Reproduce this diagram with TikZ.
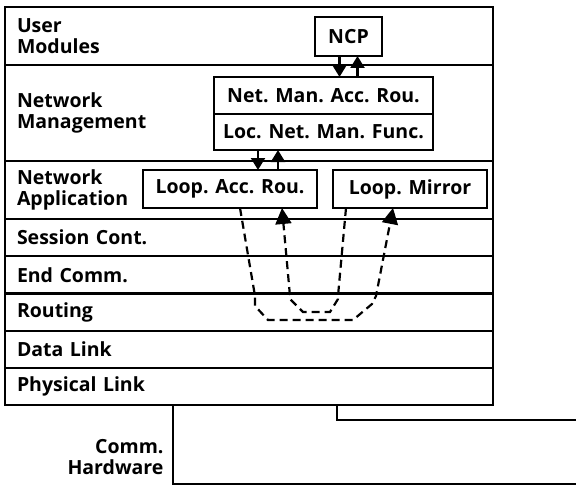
\documentclass[tikz,border=0pt]{standalone}
\usepackage{fontspec}
\setmainfont{Open Sans}
\usetikzlibrary{arrows.meta,positioning}

\begin{document}
\begin{tikzpicture}[
    x=1pt, y=-1pt,
    node distance=0pt,
    layer/.style={draw, line width=2.2pt, outer sep=0pt, text width=464pt, inner xsep=12pt, inner ysep=0pt, align=left, font=\fontsize{19.5}{21}\selectfont\bfseries},
    box/.style={draw, line width=2.2pt, outer sep=0pt, inner sep=0pt, minimum height=38pt, font=\fontsize{19.5}{21}\selectfont\bfseries},
    arr/.style={-{Triangle[length=12pt, width=14pt]}, line width=2.2pt},
    loopline/.style={-{Triangle[length=16pt, width=16pt]}, line width=2.2pt, dash pattern=on 8pt off 5pt},
    wire/.style={line width=2.2pt}
]
    \useasboundingbox (0,0) rectangle (576,487);

    % Layers
    \node[layer, minimum height=58pt, anchor=north west] (user) at (5,7) {User\\Modules};
    \node[layer, minimum height=96pt, below=of user] (netman) {Network\\Management};
    \node[layer, minimum height=58pt, below=of netman] (netapp) {Network\\Application};
    \node[layer, minimum height=37.2pt, below=of netapp] (session) {Session Cont.};
    \node[layer, minimum height=37.2pt, below=of session] (endcomm) {End Comm.};
    \node[layer, minimum height=37.2pt, below=of endcomm] (routing) {Routing};
    \node[layer, minimum height=37.2pt, below=of routing] (datalink) {Data Link};
    \node[layer, minimum height=37.2pt, below=of datalink] (phys) {Physical Link};

    % Modules
    \node[box, minimum width=67pt, minimum height=39pt] (ncp) at (348.5,36.5) {NCP};
    \node[box, minimum width=219pt, minimum height=37pt] (netacc) at (323.5,95.5) {Net. Man. Acc. Rou.};
    \node[box, minimum width=219pt, minimum height=36pt, below=of netacc] (locnet) {Loc. Net. Man. Func.};
    \node[box, minimum width=174pt] (loopacc) at (230,189) {Loop. Acc. Rou.};
    \node[box, minimum width=154pt, right=16pt of loopacc] (mirror) {Loop. Mirror};

    % Arrows
    \draw[arr] ([xshift=-9pt]ncp.south) -- ([xshift=-9pt]ncp.south |- netacc.north);
    \draw[arr] ([xshift=9pt]ncp.south |- netacc.north) -- ([xshift=9pt]ncp.south);
    \draw[arr] ([xshift=28pt]loopacc.north |- locnet.south) -- ([xshift=28pt]loopacc.north);
    \draw[arr] ([xshift=48pt]loopacc.north) -- ([xshift=48pt]loopacc.north |- locnet.south);

    % Loopback paths
    \draw[loopline] ([xshift=10pt]loopacc.south) -- ++(15,88) -- ++(0,10) -- ++(13,14) -- ++(85,0)
        -- ++(19,-16) -- ++(4,-8) -- ([xshift=-17pt]mirror.south);
    \draw[loopline] ([xshift=-64pt]mirror.south) -- ++(-8,88) -- ++(0,3) -- ++(-8,13) -- ++(-27,0)
        -- ++(-13,-13) -- ++(0,-3) -- ([xshift=52pt]loopacc.south);

    % Hardware
    \coordinate (hwend) at (576,484);
    \coordinate (linkend) at (576,420);
    \draw[wire] ([xshift=168pt]phys.south west) |- (hwend);
    \draw[wire] ([xshift=332pt]phys.south west) |- (linkend);
    \node[font=\fontsize{19.5}{21}\selectfont\bfseries, align=right, anchor=east] (hwlabel) at (167,457) {Comm.\\Hardware};
\end{tikzpicture}
\end{document}
